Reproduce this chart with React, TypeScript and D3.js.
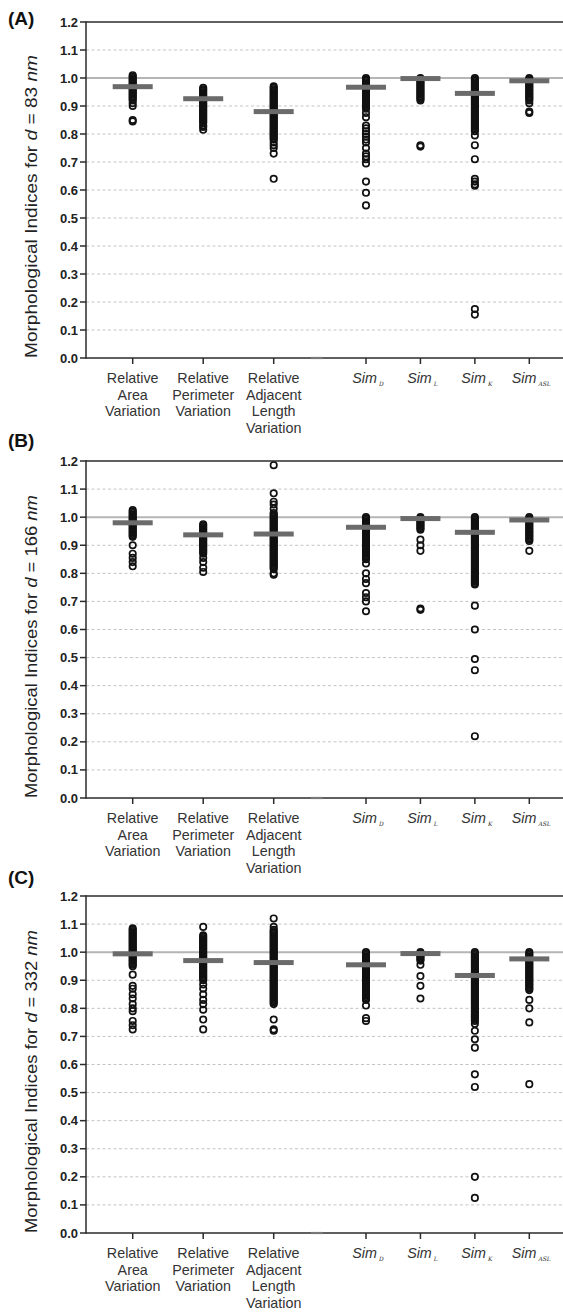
import React from "react";
import * as d3 from "d3";

// ---------- categories & ticks ----------
const relCats = ["Relative Area Variation", "Relative Perimeter Variation", "Relative Adjacent Length Variation"];
const relLabelLines = [
  ["Relative", "Area", "Variation"],
  ["Relative", "Perimeter", "Variation"],
  ["Relative", "Adjacent", "Length", "Variation"],
];
const simCats = ["D", "L", "K", "ASL"];
const yTicks = [0, 0.1, 0.2, 0.3, 0.4, 0.5, 0.6, 0.7, 0.8, 0.9, 1.0, 1.1, 1.2];
const gridTicks = [0.1, 0.2, 0.3, 0.4, 0.5, 0.6, 0.7, 0.8, 0.9, 1.1];
const distances = ["83", "166", "332"];
const panelLetters = ["(A)", "(B)", "(C)"];

// ---------- Panel A (d = 83 nm) ----------
const aArea = [1.01,1.005,1.0,0.995,0.99,0.985,0.98,0.975,0.97,0.965,0.96,0.955,0.95,0.945,0.94,0.935,0.93,0.925,0.92,0.91,0.9,0.85,0.845];
const aPerim = [0.965,0.96,0.955,0.95,0.945,0.94,0.935,0.93,0.925,0.92,0.915,0.91,0.905,0.9,0.895,0.89,0.885,0.88,0.875,0.87,0.865,0.86,0.855,0.85,0.845,0.84,0.83,0.825,0.815];
const aAdj = [0.97,0.965,0.96,0.955,0.95,0.945,0.94,0.935,0.93,0.925,0.92,0.915,0.91,0.905,0.9,0.895,0.89,0.885,0.88,0.875,0.87,0.865,0.86,0.855,0.85,0.845,0.84,0.835,0.83,0.825,0.82,0.815,0.81,0.805,0.8,0.795,0.79,0.785,0.78,0.77,0.76,0.75,0.73,0.64];
const aSimD = [1.0,0.995,0.99,0.985,0.98,0.975,0.97,0.965,0.96,0.955,0.95,0.945,0.94,0.935,0.93,0.925,0.92,0.915,0.91,0.905,0.9,0.895,0.89,0.875,0.86,0.83,0.82,0.81,0.8,0.79,0.78,0.77,0.75,0.73,0.72,0.71,0.695,0.63,0.59,0.545];
const aSimL = [1.0,0.995,0.99,0.985,0.98,0.975,0.97,0.965,0.96,0.955,0.95,0.945,0.94,0.935,0.93,0.925,0.92,0.76,0.755];
const aSimK = [1.0,0.995,0.99,0.985,0.98,0.975,0.97,0.965,0.96,0.955,0.95,0.945,0.94,0.935,0.93,0.925,0.92,0.915,0.91,0.905,0.9,0.895,0.89,0.885,0.88,0.875,0.87,0.865,0.86,0.855,0.85,0.845,0.84,0.835,0.83,0.825,0.82,0.815,0.81,0.795,0.76,0.71,0.64,0.63,0.62,0.615,0.175,0.155];
const aSimASL = [1.0,0.995,0.99,0.985,0.98,0.975,0.97,0.965,0.96,0.955,0.95,0.945,0.94,0.935,0.93,0.925,0.92,0.91,0.88,0.875];
const meansA = [0.969, 0.926, 0.88, 0.967, 0.998, 0.945, 0.99];

// ---------- Panel B (d = 166 nm) ----------
const bArea = [1.025,1.02,1.015,1.01,1.005,1.0,0.995,0.99,0.985,0.98,0.975,0.97,0.965,0.96,0.955,0.95,0.945,0.94,0.935,0.93,0.9,0.87,0.855,0.84,0.825];
const bPerim = [0.975,0.97,0.965,0.96,0.955,0.95,0.945,0.94,0.935,0.93,0.925,0.92,0.915,0.91,0.905,0.9,0.895,0.89,0.885,0.88,0.875,0.87,0.855,0.84,0.82,0.805];
const bAdj = [1.185,1.085,1.055,1.045,1.03,1.015,1.01,1.005,1.0,0.995,0.99,0.985,0.98,0.975,0.97,0.965,0.96,0.955,0.95,0.945,0.94,0.935,0.93,0.925,0.92,0.915,0.91,0.905,0.9,0.895,0.89,0.885,0.88,0.875,0.87,0.865,0.86,0.855,0.85,0.845,0.84,0.835,0.83,0.825,0.82,0.815,0.8,0.795];
const bSimD = [1.0,0.995,0.99,0.985,0.98,0.975,0.97,0.965,0.96,0.955,0.95,0.945,0.94,0.935,0.93,0.925,0.92,0.915,0.91,0.905,0.9,0.895,0.89,0.885,0.88,0.875,0.87,0.865,0.86,0.855,0.85,0.835,0.8,0.78,0.765,0.73,0.715,0.7,0.665];
const bSimL = [1.0,0.995,0.99,0.985,0.98,0.975,0.97,0.965,0.96,0.955,0.92,0.9,0.88,0.675,0.67];
const bSimK = [1.0,0.995,0.99,0.985,0.98,0.975,0.97,0.965,0.96,0.955,0.95,0.945,0.94,0.935,0.93,0.925,0.92,0.915,0.91,0.905,0.9,0.895,0.89,0.885,0.88,0.875,0.87,0.865,0.86,0.855,0.85,0.845,0.84,0.835,0.83,0.825,0.82,0.815,0.81,0.805,0.8,0.795,0.79,0.785,0.78,0.775,0.77,0.765,0.76,0.685,0.6,0.495,0.455,0.22];
const bSimASL = [1.0,0.995,0.99,0.985,0.98,0.975,0.97,0.965,0.96,0.955,0.95,0.945,0.94,0.935,0.93,0.925,0.92,0.915,0.88];
const meansB = [0.98, 0.937, 0.94, 0.964, 0.995, 0.946, 0.99];

// ---------- Panel C (d = 332 nm) ----------
const cArea = [1.085,1.08,1.075,1.07,1.065,1.06,1.055,1.05,1.045,1.04,1.035,1.03,1.025,1.02,1.015,1.01,1.005,1.0,0.995,0.99,0.985,0.98,0.975,0.97,0.965,0.96,0.955,0.95,0.92,0.88,0.87,0.85,0.835,0.815,0.8,0.79,0.755,0.74,0.725];
const cPerim = [1.09,1.06,1.055,1.05,1.045,1.04,1.035,1.03,1.025,1.02,1.015,1.01,1.005,1.0,0.995,0.99,0.985,0.98,0.975,0.97,0.965,0.96,0.955,0.95,0.945,0.94,0.935,0.93,0.925,0.92,0.915,0.91,0.905,0.9,0.885,0.87,0.85,0.83,0.815,0.795,0.76,0.725];
const cAdj = [1.12,1.09,1.08,1.075,1.07,1.065,1.06,1.055,1.05,1.045,1.04,1.035,1.03,1.025,1.02,1.015,1.01,1.005,1.0,0.995,0.99,0.985,0.98,0.975,0.97,0.965,0.96,0.955,0.95,0.945,0.94,0.935,0.93,0.925,0.92,0.915,0.91,0.905,0.9,0.895,0.89,0.885,0.88,0.875,0.87,0.865,0.86,0.855,0.85,0.845,0.84,0.835,0.83,0.825,0.82,0.815,0.76,0.725,0.72];
const cSimD = [1.0,0.995,0.99,0.985,0.98,0.975,0.97,0.965,0.96,0.955,0.95,0.945,0.94,0.935,0.93,0.925,0.92,0.915,0.91,0.905,0.9,0.895,0.89,0.885,0.88,0.875,0.87,0.865,0.86,0.855,0.85,0.845,0.84,0.835,0.83,0.81,0.765,0.755];
const cSimL = [1.0,0.995,0.99,0.985,0.98,0.975,0.97,0.955,0.915,0.88,0.835];
const cSimK = [1.0,0.995,0.99,0.985,0.98,0.975,0.97,0.965,0.96,0.955,0.95,0.945,0.94,0.935,0.93,0.925,0.92,0.915,0.91,0.905,0.9,0.895,0.89,0.885,0.88,0.875,0.87,0.865,0.86,0.855,0.85,0.845,0.84,0.835,0.83,0.825,0.82,0.815,0.81,0.805,0.8,0.795,0.79,0.785,0.78,0.775,0.77,0.765,0.76,0.755,0.745,0.72,0.69,0.66,0.565,0.52,0.2,0.125];
const cSimASL = [1.0,0.995,0.99,0.985,0.98,0.975,0.97,0.965,0.96,0.955,0.95,0.945,0.94,0.935,0.93,0.925,0.92,0.915,0.91,0.905,0.9,0.895,0.89,0.885,0.88,0.875,0.87,0.865,0.83,0.8,0.75,0.53];
const meansC = [0.994, 0.97, 0.963, 0.955, 0.995, 0.917, 0.976];

const panelSeries = [
  { rel: [aArea, aPerim, aAdj], sim: [aSimD, aSimL, aSimK, aSimASL], means: meansA },
  { rel: [bArea, bPerim, bAdj], sim: [bSimD, bSimL, bSimK, bSimASL], means: meansB },
  { rel: [cArea, cPerim, cAdj], sim: [cSimD, cSimL, cSimK, cSimASL], means: meansC },
];

// ---------- layout ----------
const W = 563;
const H = 1312;
const axisX = 86;
const layouts = [
  { top: 22, bottom: 358, labelY: 25 },
  { top: 461, bottom: 798, labelY: 447 },
  { top: 896, bottom: 1233, labelY: 884 },
];

const xRel = d3.scalePoint<string>().domain(relCats).range([132.7, 273.7]);
const xSim = d3.scalePoint<string>().domain(simCats).range([366, 529.3]);
const fmt = d3.format(".1f");

const AX = "#2b2b2b";
const FONT = "Arial, 'Liberation Sans', Helvetica, sans-serif";

function Panel({ idx }: { idx: number }) {
  const L = layouts[idx];
  const S = panelSeries[idx];
  const y = d3.scaleLinear().domain([0, 1.2]).range([L.bottom, L.top]);
  const cols: { x: number; vals: number[]; mean: number }[] = [
    ...relCats.map((c, i) => ({ x: xRel(c) as number, vals: S.rel[i], mean: S.means[i] })),
    ...simCats.map((c, i) => ({ x: xSim(c) as number, vals: S.sim[i], mean: S.means[3 + i] })),
  ];
  return (
    <g>
      <text x={8} y={L.labelY} fontFamily={FONT} fontWeight="bold" fontSize={19} fill="#111">
        {panelLetters[idx]}
      </text>
      <text
        transform={`translate(37,${L.bottom}) rotate(-90)`}
        fontFamily={FONT}
        fontSize={17}
        fill="#222"
        textLength={303}
        lengthAdjust="spacingAndGlyphs"
      >
        Morphological Indices for <tspan fontStyle="italic">d</tspan> = {distances[idx]} <tspan fontStyle="italic">nm</tspan>
      </text>
      {gridTicks.map((t) => (
        <line key={t} x1={axisX} x2={W} y1={y(t)} y2={y(t)} stroke="#c4c4c4" strokeWidth={1} strokeDasharray="3,2.5" />
      ))}
      <line x1={axisX} x2={W} y1={y(1)} y2={y(1)} stroke="#b5b5b5" strokeWidth={2} />
      <line x1={axisX} x2={W} y1={y(1.2)} y2={y(1.2)} stroke={AX} strokeWidth={1.5} />
      <line x1={axisX} x2={axisX} y1={y(1.2) - 0.75} y2={y(0) + 0.75} stroke={AX} strokeWidth={1.5} />
      <line x1={axisX} x2={W} y1={y(0)} y2={y(0)} stroke={AX} strokeWidth={1.5} />
      <line x1={311} x2={323} y1={y(0)} y2={y(0)} stroke="#777" strokeWidth={2.2} />
      {yTicks.map((t) => (
        <g key={t}>
          <line x1={axisX - 6} x2={axisX} y1={y(t)} y2={y(t)} stroke={AX} strokeWidth={1.5} />
          <text x={78} y={y(t) + 4.5} textAnchor="end" fontFamily={FONT} fontWeight="bold" fontSize={13} fill="#222">
            {fmt(t)}
          </text>
        </g>
      ))}
      {cols.map((c, i) => (
        <line key={i} x1={c.x} x2={c.x} y1={y(0)} y2={y(0) + 6} stroke={AX} strokeWidth={1.5} />
      ))}
      {relCats.map((c, i) => (
        <text key={c} textAnchor="middle" fontFamily={FONT} fontSize={14.3} fill="#333">
          {relLabelLines[i].map((ln, j) => (
            <tspan key={j} x={xRel(c)} y={y(0) + 25 + j * 16.7}>
              {ln}
            </tspan>
          ))}
        </text>
      ))}
      {simCats.map((c) => (
        <text key={c} x={(xSim(c) as number) + 2} y={y(0) + 25} textAnchor="middle" fontFamily={FONT} fontSize={14.3} fill="#333">
          <tspan fontStyle="italic">Sim</tspan>
          <tspan fontFamily="'DejaVu Serif', serif" fontStyle="italic" fontSize={6} dx={2} dy={3}>
            {c}
          </tspan>
        </text>
      ))}
      {cols.map((c, i) => (
        <g key={i}>
          {c.vals.map((v, j) => (
            <circle key={j} cx={c.x} cy={y(v)} r={3.2} fill="none" stroke="#111" strokeWidth={1.7} />
          ))}
        </g>
      ))}
      {cols.map((c, i) => (
        <rect key={i} x={c.x - 20} y={y(c.mean) - 2.5} width={40} height={5} fill="#6b6b6b" />
      ))}
    </g>
  );
}

export default function App() {
  return (
    <svg
      width={W}
      height={H}
      viewBox={`0 0 ${W} ${H}`}
      style={{ position: "absolute", left: 0, top: 0, background: "#fff" }}
    >
      <rect x={0} y={0} width={W} height={H} fill="#fff" />
      {[0, 1, 2].map((i) => (
        <Panel key={i} idx={i} />
      ))}
    </svg>
  );
}
